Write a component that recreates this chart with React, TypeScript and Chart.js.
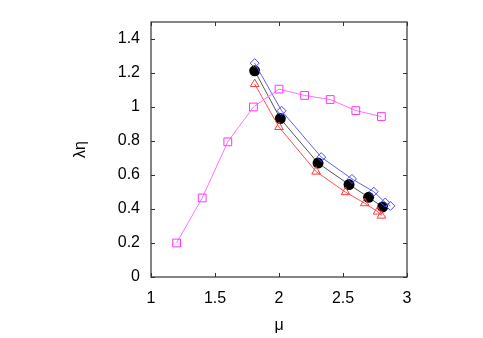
import React, { useEffect, useRef } from "react";
import { Chart, registerables } from "chart.js";

Chart.register(...registerables);

const xTicks = [1, 1.5, 2, 2.5, 3];
const yTicks = [0, 0.2, 0.4, 0.6, 0.8, 1.0, 1.2, 1.4];

const magentaX = [1.2, 1.4, 1.6, 1.8, 2.0, 2.2, 2.4, 2.6, 2.8];
const magentaY = [0.2, 0.465, 0.795, 1.0, 1.105, 1.068, 1.044, 0.979, 0.944];

const blueX = [1.81, 2.02, 2.33, 2.57, 2.74, 2.83, 2.87];
const blueY = [1.258, 0.978, 0.705, 0.577, 0.502, 0.438, 0.418];

const blackX = [1.81, 2.01, 2.305, 2.547, 2.7, 2.81];
const blackY = [1.213, 0.932, 0.67, 0.544, 0.469, 0.412];

const redX = [1.81, 2.0, 2.29, 2.52, 2.67, 2.77, 2.8];
const redY = [1.135, 0.882, 0.62, 0.499, 0.434, 0.385, 0.361];

const pts = (xs: number[], ys: number[]) => xs.map((x, i) => ({ x, y: ys[i] }));

const fmt = (v: number) => String(Number(v.toFixed(1)));

const FONT = "'Liberation Sans', Arial, sans-serif";

const framePlugin = {
  id: "frame",
  afterDraw(chart: any) {
    const { ctx, chartArea } = chart;
    const { left, right, top, bottom } = chartArea;
    const xs = chart.scales.x;
    const ys = chart.scales.y;
    ctx.save();
    ctx.strokeStyle = "#333";
    ctx.lineWidth = 1;
    ctx.beginPath();
    const t = 4;
    xTicks.forEach((v) => {
      const px = Math.round(xs.getPixelForValue(v)) + 0.5;
      ctx.moveTo(px, bottom);
      ctx.lineTo(px, bottom - t);
      ctx.moveTo(px, top);
      ctx.lineTo(px, top + t);
    });
    yTicks.forEach((v) => {
      const py = Math.round(ys.getPixelForValue(v)) + 0.5;
      ctx.moveTo(left, py);
      ctx.lineTo(left + t, py);
      ctx.moveTo(right, py);
      ctx.lineTo(right - t, py);
    });
    ctx.stroke();
    ctx.lineWidth = 1.2;
    ctx.strokeRect(left, top, right - left, bottom - top);
    ctx.restore();
  },
};

export default function App() {
  const ref = useRef<HTMLCanvasElement | null>(null);
  useEffect(() => {
    if (!ref.current) return;
    const chart = new Chart(ref.current, {
      type: "scatter",
      data: {
        datasets: [
          {
            data: pts(magentaX, magentaY),
            showLine: true,
            borderColor: "#ff70ff",
            borderWidth: 1,
            pointStyle: "rect",
            pointRadius: 5.5,
            pointBorderColor: "#ff33ff",
            pointBorderWidth: 1,
            pointBackgroundColor: "rgba(0,0,0,0)",
          },
          {
            data: pts(blueX, blueY),
            showLine: true,
            borderColor: "#6060ff",
            borderWidth: 1,
            pointStyle: "rectRot",
            pointRadius: 4.5,
            pointBorderColor: "#4a4aff",
            pointBorderWidth: 1,
            pointBackgroundColor: "rgba(0,0,0,0)",
          },
          {
            data: pts(redX, redY),
            showLine: true,
            borderColor: "#ff5050",
            borderWidth: 1,
            pointStyle: "triangle",
            pointRadius: 5,
            pointBorderColor: "#ff3b3b",
            pointBorderWidth: 1,
            pointBackgroundColor: "rgba(0,0,0,0)",
          },
          {
            data: pts(blackX, blackY),
            showLine: true,
            borderColor: "#555555",
            borderWidth: 1,
            pointStyle: "circle",
            pointRadius: 5.5,
            pointBorderColor: "#000",
            pointBorderWidth: 0,
            pointBackgroundColor: "#000",
          },
        ],
      },
      options: {
        animation: false,
        responsive: false,
        devicePixelRatio: 1,
        layout: { padding: { left: 0, right: 76, top: 22, bottom: 0 } },
        plugins: { legend: { display: false }, tooltip: { enabled: false } },
        scales: {
          x: {
            type: "linear",
            min: 1,
            max: 3,
            grid: { display: false, drawTicks: false },
            border: { display: false },
            afterBuildTicks: (s: any) => {
              s.ticks = xTicks.map((v) => ({ value: v }));
            },
            afterFit: (s: any) => {
              s.height = 61;
            },
            ticks: {
              padding: 12,
              color: "#000",
              font: { family: FONT, size: 16 },
              callback: (v: any) => fmt(Number(v)),
            },
            title: {
              display: true,
              text: "μ",
              color: "#000",
              font: { family: FONT, size: 16 },
              padding: { top: 0, bottom: 3 },
            },
          },
          y: {
            type: "linear",
            min: 0,
            max: 1.5,
            grid: { display: false, drawTicks: false },
            border: { display: false },
            afterBuildTicks: (s: any) => {
              s.ticks = yTicks.map((v) => ({ value: v }));
            },
            afterFit: (s: any) => {
              s.width = 151;
            },
            ticks: {
              padding: 11,
              color: "#000",
              font: { family: FONT, size: 16 },
              callback: (v: any) => fmt(Number(v)),
            },
            title: {
              display: true,
              text: "λη",
              color: "#000",
              font: { family: FONT, size: 16 },
              padding: { top: 71, bottom: 0 },
            },
          },
        },
      },
      plugins: [framePlugin],
    });
    return () => chart.destroy();
  }, []);
  return (
    <div style={{ position: "fixed", left: 0, top: 0, width: 483, height: 338, background: "#fff" }}>
      <canvas ref={ref} width={483} height={338} style={{ width: 483, height: 338, display: "block" }} />
    </div>
  );
}
